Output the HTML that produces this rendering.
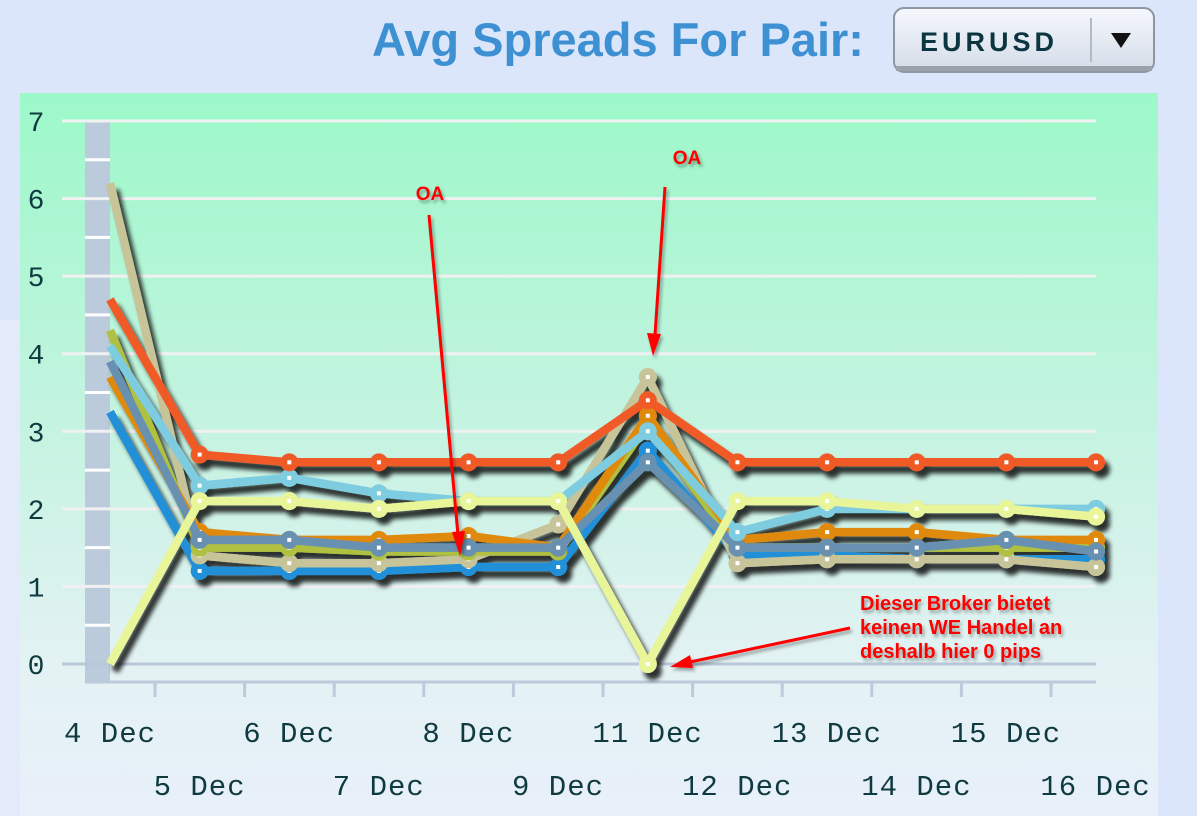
<!DOCTYPE html>
<html><head><meta charset="utf-8"><style>
html,body{margin:0;padding:0;width:1197px;height:816px;overflow:hidden;background:#dce6fb;}
svg{position:absolute;left:0;top:0;}
</style></head><body>
<svg id="s" width="1197" height="816" xmlns="http://www.w3.org/2000/svg">
<defs>
<linearGradient id="bg" x1="0" y1="0" x2="0" y2="1">
<stop offset="0" stop-color="#9cf8c9"/><stop offset="0.5" stop-color="#c8f3e3"/><stop offset="0.8" stop-color="#e4f2f4"/><stop offset="1" stop-color="#e8f0fa"/>
</linearGradient>
<linearGradient id="btn" x1="0" y1="0" x2="0" y2="1">
<stop offset="0" stop-color="#f6f8fd"/><stop offset="1" stop-color="#d4dce8"/>
</linearGradient>
<filter id="sh" x="-10%" y="-10%" width="120%" height="130%">
<feGaussianBlur in="SourceAlpha" stdDeviation="2.5"/><feOffset dx="5" dy="7" result="o"/>
<feComponentTransfer><feFuncA type="linear" slope="0.8"/></feComponentTransfer>
<feMerge><feMergeNode/><feMergeNode in="SourceGraphic"/></feMerge>
</filter>
<filter id="ts"><feGaussianBlur in="SourceAlpha" stdDeviation="1.5"/><feOffset dx="2" dy="3"/><feComponentTransfer><feFuncA type="linear" slope="0.35"/></feComponentTransfer><feMerge><feMergeNode/><feMergeNode in="SourceGraphic"/></feMerge></filter>
</defs>
<rect x="0" y="320" width="20" height="496" fill="#e3ebfa"/>
<rect x="20" y="93" width="1138" height="723" fill="url(#bg)"/>
<text x="618" y="56" text-anchor="middle" font-family="Liberation Sans, sans-serif" font-weight="bold" font-size="47" fill="#3d91d2">Avg Spreads For Pair:</text>
<rect x="894" y="8" width="260" height="64" rx="10" fill="url(#btn)" stroke="#8e979f" stroke-width="2"/>
<rect x="896" y="66" width="256" height="5" fill="#9aa2ac"/>
<line x1="1091" y1="18" x2="1091" y2="62" stroke="#b2bcc0" stroke-width="2"/>
<text x="989" y="51" text-anchor="middle" font-family="Liberation Sans, sans-serif" font-weight="bold" font-size="27" letter-spacing="4" fill="#0b3540">EURUSD</text>
<polygon points="1111,33 1131,33 1121,48" fill="#111"/>
<g id="g"></g>
</svg>
<script>
var s=document.getElementById('g'),h='';
function Y(v){return 664-v*77.57;}
function X(i){return 110+i*89.64;}
h+='<rect x="85" y="121" width="25" height="561" fill="#bccbdb"/>';
for(var v=0;v<=7;v++){h+='<line x1="62" y1="'+Y(v)+'" x2="1096" y2="'+Y(v)+'" stroke="'+(v==0?'#b8c8d8':'#f0f2f2')+'" stroke-width="3"/>';
 h+='<text x="36" y="'+(Y(v)+10)+'" text-anchor="middle" font-family="Liberation Mono, monospace" font-size="28" fill="#0e3a40">'+v+'</text>';}
for(var v=0.5;v<7;v+=1){h+='<line x1="85" y1="'+Y(v)+'" x2="110" y2="'+Y(v)+'" stroke="#fff" stroke-width="3"/>';}
h+='<line x1="85" y1="682" x2="1096" y2="682" stroke="#bccbdb" stroke-width="3"/>';
for(var i=0;i<11;i++){var x=155+i*89.6;h+='<line x1="'+x+'" y1="682" x2="'+x+'" y2="697" stroke="#bccbdb" stroke-width="3"/>';}
var lab=['4 Dec','5 Dec','6 Dec','7 Dec','8 Dec','9 Dec','11 Dec','12 Dec','13 Dec','14 Dec','15 Dec','16 Dec'];
for(var i=0;i<12;i++){var cx=110+i*89.6;var y=i%2?795:742;
 h+='<text x="'+cx+'" y="'+y+'" text-anchor="middle" font-family="Liberation Mono, monospace" font-size="29" letter-spacing="1" fill="#0e3a40">'+lab[i]+'</text>';}
var S=[
['#2090d8',[3.25,1.2,1.2,1.2,1.25,1.25,2.75,1.4,1.4,1.35,1.35,1.35]],
['#c8c49a',[6.2,1.4,1.3,1.3,1.35,1.8,3.7,1.3,1.35,1.35,1.35,1.25]],
['#b0c040',[4.3,1.5,1.5,1.45,1.45,1.45,3.1,1.5,1.5,1.5,1.5,1.5]],
['#e08a10',[3.7,1.7,1.6,1.6,1.65,1.5,3.2,1.6,1.7,1.7,1.6,1.6]],
['#6890b0',[3.9,1.6,1.6,1.5,1.5,1.5,2.6,1.5,1.5,1.5,1.6,1.45]],
['#7ecce0',[4.1,2.3,2.4,2.2,2.1,2.1,3.0,1.7,2.0,2.0,2.0,2.0]],
['#f05a28',[4.7,2.7,2.6,2.6,2.6,2.6,3.4,2.6,2.6,2.6,2.6,2.6]],
['#e8f598',[0,2.1,2.1,2.0,2.1,2.1,0,2.1,2.1,2.0,2.0,1.9]]];
h+='<g filter="url(#sh)">';
S.forEach(function(sr){var p='';sr[1].forEach(function(v,i){p+=(i?'L':'M')+X(i).toFixed(1)+' '+Y(v).toFixed(1);});
 h+='<path d="'+p+'" fill="none" stroke="'+sr[0]+'" stroke-width="8.5" stroke-linejoin="round"/>';
 sr[1].forEach(function(v,i){if(i==0)return;h+='<circle cx="'+X(i)+'" cy="'+Y(v)+'" r="9" fill="'+sr[0]+'"/><rect x="'+(X(i)-2)+'" y="'+(Y(v)-2)+'" width="4" height="4" fill="#fff"/>';});});
h+='</g>';
h+='<g filter="url(#ts)" font-family="Liberation Sans, sans-serif" font-weight="bold" fill="#ff0000">';
h+='<text x="430" y="200" text-anchor="middle" font-size="19">OA</text><text x="687" y="164" text-anchor="middle" font-size="19">OA</text>';
h+='<text x="860" y="610" font-size="20">Dieser Broker bietet</text><text x="860" y="634" font-size="20">keinen WE Handel an</text><text x="860" y="658" font-size="20">deshalb hier 0 pips</text>';
h+='<line x1="429" y1="215" x2="458" y2="535" stroke="#f00" stroke-width="3"/><polygon points="460,556 452,532 465,531"/>';
h+='<line x1="665" y1="187" x2="655" y2="335" stroke="#f00" stroke-width="3"/><polygon points="653,356 647,333 661,334"/>';
h+='<line x1="850" y1="628" x2="690" y2="662" stroke="#f00" stroke-width="3"/><polygon points="670,667 690,655 693,668"/>';
h+='</g>';
s.innerHTML=h;
</script>
</body></html>
